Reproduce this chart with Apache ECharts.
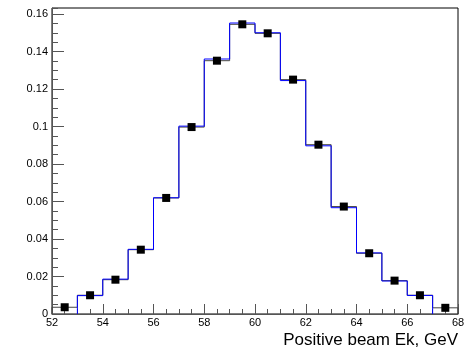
<!DOCTYPE html>
<html>
<head>
<meta charset="utf-8">
<script src="https://cdn.jsdelivr.net/npm/echarts@6/dist/echarts.min.js"></script>
<style>html,body{margin:0;padding:0;background:#fff}#c{width:468px;height:351px}</style>
</head>
<body>
<div id="c"></div>
<script>
var binLow = [52,53,54,55,56,57,58,59,60,61,62,63,64,65,66,67];
var binWidth = 1;
var blackVals = [0.0036,0.0100,0.0183,0.0343,0.0619,0.0997,0.1351,0.1545,0.1497,0.1250,0.0903,0.0573,0.0324,0.0178,0.0100,0.0033];
var blueVals  = [0,0.0098,0.0186,0.0345,0.0620,0.1002,0.1360,0.1552,0.1500,0.1245,0.0897,0.0567,0.0326,0.0176,0.0099,0];
var xTitle = "Positive beam Ek, GeV";

function stepData(vals, skipZeroEdges){
  var d = [];
  var start = 0, end = vals.length - 1;
  if (skipZeroEdges){
    while (start < end && vals[start] === 0) start++;
    while (end > start && vals[end] === 0) end--;
  }
  d.push([binLow[start], 0]);
  for (var i = start; i <= end; i++) d.push([binLow[i], vals[i]]);
  d.push([binLow[end] + binWidth, vals[end]]);
  d.push([binLow[end] + binWidth, 0]);
  return d;
}
var markers = binLow.map(function(x,i){ return [x + binWidth/2, blackVals[i]]; });

var chart = echarts.init(document.getElementById('c'), null, {renderer:'canvas'});
var font = 'Liberation Sans, Arial, Helvetica, sans-serif';
var axisCol = '#555';
chart.setOption({
  animation: false,
  backgroundColor: '#fff',
  grid: {left: 52, right: 10, top: 8, bottom: 37, show: true, borderColor: '#000', borderWidth: 1, backgroundColor: 'transparent'},
  xAxis: {
    type: 'value', min: 52, max: 68, interval: 2,
    axisLine: {show: true, lineStyle: {color: axisCol, width: 1}},
    axisTick: {show: true, inside: true, length: 10, lineStyle: {color: axisCol}},
    minorTick: {show: true, splitNumber: 4, length: 5, lineStyle: {color: axisCol}},
    splitLine: {show: false},
    axisLabel: {color: '#000', fontSize: 11, fontFamily: font, margin: 3},
    name: xTitle, nameLocation: 'end', nameGap: 0,
    nameTextStyle: {color: '#000', fontSize: 17, fontFamily: font, align: 'right', verticalAlign: 'top', padding: [18, 0, 0, 0]}
  },
  yAxis: [{
    type: 'value', min: 0, max: 0.1632, interval: 0.02,
    axisLine: {show: true, lineStyle: {color: axisCol, width: 1}},
    axisTick: {show: true, inside: true, length: 12, lineStyle: {color: axisCol}},
    splitLine: {show: false},
    axisLabel: {color: '#000', fontSize: 11, fontFamily: font, margin: 4, showMaxLabel: false,
      formatter: function(v){ var r = Math.round(v*100)/100; if (Math.abs(r - v) > 1e-9) return ''; return r === 0 ? '0' : String(r); }}
  },{
    type: 'value', min: 0, max: 0.1632, interval: 0.005, position: 'left',
    axisLine: {show: false},
    axisTick: {show: true, inside: true, length: 6, lineStyle: {color: axisCol}},
    splitLine: {show: false},
    axisLabel: {show: false}
  }],
  series: [
    {type: 'line', data: stepData(blackVals, false), step: 'end', symbol: 'none',
     lineStyle: {color: '#444', width: 1}, z: 2},
    {type: 'line', data: stepData(blueVals, true), step: 'end', symbol: 'none',
     lineStyle: {color: '#0000ff', width: 1}, z: 3},
    {type: 'scatter', data: markers, symbol: 'rect', symbolSize: 8,
     itemStyle: {color: '#000', opacity: 1}, z: 4}
  ]
});
</script>
</body>
</html>
